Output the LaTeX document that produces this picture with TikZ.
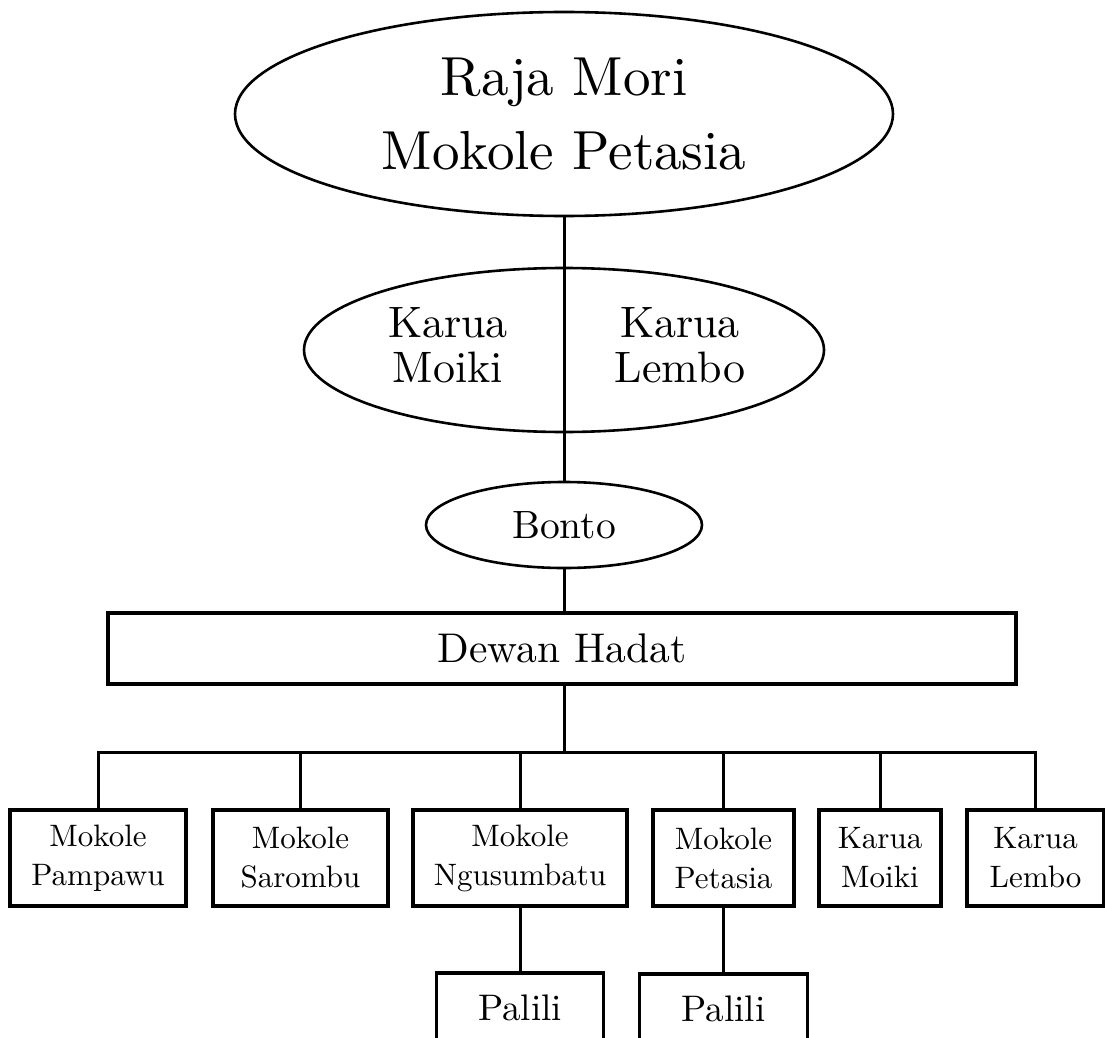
\documentclass[tikz,border=0pt]{standalone}
\usepackage{fontspec}
\setmainfont{lmroman10-regular.otf}
\usetikzlibrary{shapes.geometric}
\begin{document}
\begin{tikzpicture}[x=1pt,y=-1pt,
  oval/.style={ellipse,draw,line width=2.6pt,inner sep=0pt},
  unit/.style={rectangle,draw,line width=3.6pt,inner sep=0pt,align=center,minimum height=96,font=\fontsize{31}{39}\selectfont},
  leaf/.style={rectangle,draw,line width=3.6pt,inner sep=0pt,minimum height=70,font=\fontsize{37}{40}\selectfont},
  label/.style={inner sep=0pt,align=center,font=\fontsize{44}{45}\selectfont},
  link/.style={line width=3pt}]
\useasboundingbox (0,0) rectangle (1105,1038);
% top levels
\node[oval,minimum width=658,minimum height=204,align=center,font=\fontsize{55}{74}\selectfont] (raja) at (564,114) {Raja Mori\\Mokole Petasia};
\node[oval,minimum width=520,minimum height=164] (karua) at (564,350) {};
\node[label] (kmoiki) at (448,345) {Karua\\Moiki};
\node[label] (klembo) at (680,345) {Karua\\Lembo};
\node[oval,minimum width=276,minimum height=86,font=\fontsize{39.5}{42}\selectfont] (bonto) at (564,525) {Bonto};
\node[rectangle,draw,line width=4pt,inner sep=0pt,minimum width=908,minimum height=71,font=\fontsize{41.5}{44}\selectfont] (dewan) at (562,648) {Dewan Hadat};
% bottom row
\node[unit,minimum width=176] (pampawu) at (98,858) {Mokole\\Pampawu};
\node[unit,minimum width=175] (sarombu) at (300.5,858) {Mokole\\Sarombu};
\node[unit,minimum width=214] (ngusumbatu) at (520,858) {Mokole\\Ngusumbatu};
\node[unit,minimum width=141] (petasia) at (723.5,858) {Mokole\\Petasia};
\node[unit,minimum width=122] (moikibox) at (880,858) {Karua\\Moiki};
\node[unit,minimum width=137] (lembobox) at (1035.5,858) {Karua\\Lembo};
\node[leaf,minimum width=167] (palili1) at (520,1008) {Palili};
\node[leaf,minimum width=168] (palili2) at (723.5,1009) {Palili};
% connectors
\coordinate (bus) at (564,752);
\draw[link] (raja.south) -- (karua.north);
\draw[link] (karua.north) -- (karua.south);
\draw[link] (karua.south) -- (bonto.north);
\draw[link] (bonto.south) -- (bonto.south |- dewan.north);
\draw[link] (bus |- dewan.south) -- (bus);
\draw[link] (pampawu.north) |- (bus);
\draw[link] (lembobox.north) |- (bus);
\foreach \n in {sarombu,ngusumbatu,petasia,moikibox}
  \draw[link] (\n.north) -- (\n.north |- bus);
\draw[link] (ngusumbatu.south) -- (palili1.north);
\draw[link] (petasia.south) -- (palili2.north);
\end{tikzpicture}
\end{document}
